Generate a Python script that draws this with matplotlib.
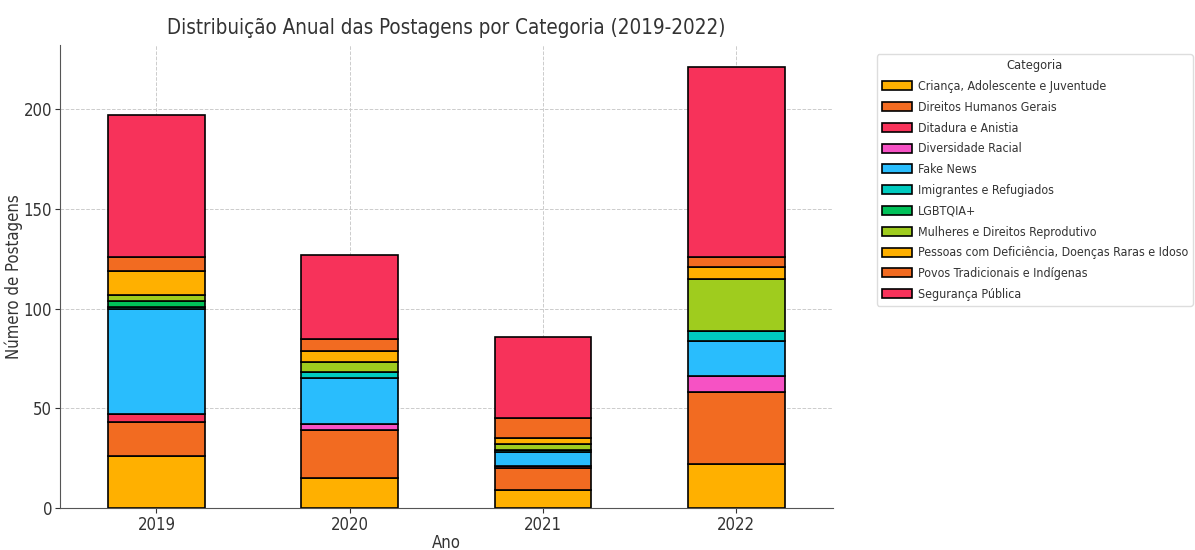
import matplotlib
matplotlib.use('Agg')
import matplotlib.pyplot as plt
import numpy as np

plt.rcParams['font.family'] = 'DejaVu Sans'
plt.rcParams['font.stretch'] = 'condensed'
plt.rcParams['text.color'] = '#333333'
plt.rcParams['axes.labelcolor'] = '#333333'
plt.rcParams['xtick.color'] = '#333333'
plt.rcParams['ytick.color'] = '#333333'

anos = ['2019', '2020', '2021', '2022']
categorias = [
    'Criança, Adolescente e Juventude',
    'Direitos Humanos Gerais',
    'Ditadura e Anistia',
    'Diversidade Racial',
    'Fake News',
    'Imigrantes e Refugiados',
    'LGBTQIA+',
    'Mulheres e Direitos Reprodutivo',
    'Pessoas com Deficiência, Doenças Raras e Idoso',
    'Povos Tradicionais e Indígenas',
    'Segurança Pública',
]

# posts per category, one value per year (2019..2022)
crianca = [26, 15, 9, 22]
direitos_humanos = [17, 24, 11, 36]
ditadura = [4, 0, 1, 0]
diversidade = [0, 3, 0, 8]
fake_news = [53, 23, 7, 18]
imigrantes = [1, 3, 1, 5]
lgbtqia = [3, 0, 0, 0]
mulheres = [3, 5, 3, 26]
pessoas_def = [12, 6, 3, 6]
povos = [7, 6, 10, 5]
seguranca = [71, 42, 41, 95]

series = [crianca, direitos_humanos, ditadura, diversidade, fake_news,
          imigrantes, lgbtqia, mulheres, pessoas_def, povos, seguranca]

colors = ['#FFB000', '#F26B21', '#F7325A', '#F652C4', '#29BDFD',
          '#00CBBF', '#01C159', '#9FCC1E', '#FFB000', '#F26B21', '#F7325A']

fig, ax = plt.subplots(figsize=(11.95, 5.5), dpi=100)
fig.subplots_adjust(left=0.05, right=0.697, top=0.918, bottom=0.076)

x = np.arange(len(anos))
bottom = np.zeros(len(anos))
for label, vals, c in zip(categorias, series, colors):
    vals = np.array(vals, dtype=float)
    ax.bar(x, vals, 0.5, bottom=bottom, color=c, edgecolor='black',
           linewidth=1.2, label=label)
    bottom += vals

ax.set_xticks(x)
ax.set_xticklabels(anos, fontsize=12)
ax.tick_params(axis='x', pad=2)
ax.tick_params(axis='y', labelsize=12, pad=2)
ax.set_xlim(-0.5, 3.5)
ax.set_ylim(0, 232)

ax.grid(True, linestyle='--', color='#cccccc', linewidth=0.7)
ax.set_axisbelow(True)
for s in ['top', 'right']:
    ax.spines[s].set_visible(False)
for s in ['left', 'bottom']:
    ax.spines[s].set_color('#555555')

ax.set_title('Distribuição Anual das Postagens por Categoria (2019-2022)',
             fontsize=14.8, pad=8)
ax.set_xlabel('Ano', fontsize=12)
ax.set_ylabel('Número de Postagens', fontsize=12)
ax.xaxis.set_label_coords(0.5, -0.055)
ax.yaxis.set_label_coords(-0.047, 0.5)

ax.legend(title='Categoria', loc='upper left', bbox_to_anchor=(1.057, 0.98),
          fontsize=8.9, title_fontsize=9.2, framealpha=1, edgecolor='#dddddd',
          handlelength=2.4, handleheight=0.75, handletextpad=0.5,
          labelspacing=0.63, borderaxespad=0, borderpad=0.4)

plt.savefig('out.png', dpi=100)
